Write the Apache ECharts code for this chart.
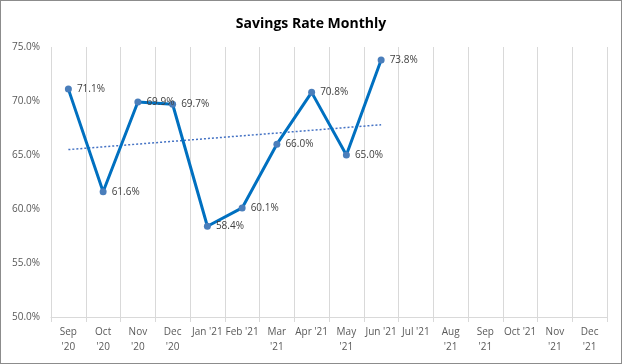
<!DOCTYPE html>
<html><head><meta charset="utf-8">
<script src="https://cdn.jsdelivr.net/npm/echarts@6/dist/echarts.min.js"></script>
<style>
html,body{margin:0;padding:0;background:#fff;}
#c{width:622px;height:364px;box-sizing:border-box;border:1px solid #8c8c8c;}
</style></head>
<body><div id="c"></div>
<script>
const months = ["Sep\n'20","Oct\n'20","Nov\n'20","Dec\n'20","Jan '21","Feb '21","Mar\n'21","Apr '21","May\n'21","Jun '21","Jul '21","Aug\n'21","Sep\n'21","Oct '21","Nov\n'21","Dec\n'21"];
const savingsRate = [71.1, 61.6, 69.9, 69.7, 58.4, 60.1, 66.0, 70.8, 65.0, 73.8];
const trendLine = [65.5, null, null, null, null, null, null, null, null, 67.8];
const yTicks = {min: 50, max: 75, interval: 5};

const font = "'Open Sans', 'Noto Sans', sans-serif";
const chart = echarts.init(document.getElementById('c'), null, {renderer: 'canvas'});
chart.setOption({
  animation: false,
  title: {text: 'Savings Rate Monthly', left: 'center', top: 11,
    textStyle: {fontFamily: font, fontSize: 14, fontWeight: 'bold', color: '#000'}},
  grid: {left: 50, right: 14, top: 46, bottom: 46},
  xAxis: {
    type: 'category', data: months, boundaryGap: true,
    axisLine: {lineStyle: {color: '#d9d9d9'}},
    axisTick: {show: true, length: 5, lineStyle: {color: '#d9d9d9'}},
    splitLine: {show: true, lineStyle: {color: '#d9d9d9', width: 1}},
    axisLabel: {interval: 0, color: '#595959', fontFamily: font, fontSize: 10, lineHeight: 15, margin: 8}
  },
  yAxis: {
    type: 'value', min: yTicks.min, max: yTicks.max, interval: yTicks.interval,
    axisLine: {show: false}, axisTick: {show: false}, splitLine: {show: false},
    axisLabel: {color: '#595959', fontFamily: font, fontSize: 10, margin: 11,
      formatter: v => v.toFixed(1) + '%'}
  },
  series: [
    {type: 'line', data: savingsRate, symbol: 'circle', symbolSize: 7,
      lineStyle: {color: '#0070C0', width: 3},
      itemStyle: {color: '#4A7EBB'},
      label: {show: true, position: 'right', distance: 5, color: '#404040', fontFamily: font, fontSize: 10,
        formatter: p => p.value.toFixed(1) + '%'},
      z: 3},
    {type: 'line', data: trendLine, connectNulls: true, symbol: 'none',
      lineStyle: {color: '#4472C4', width: 1.5, type: [2, 2]}, z: 2}
  ]
});
</script></body></html>
